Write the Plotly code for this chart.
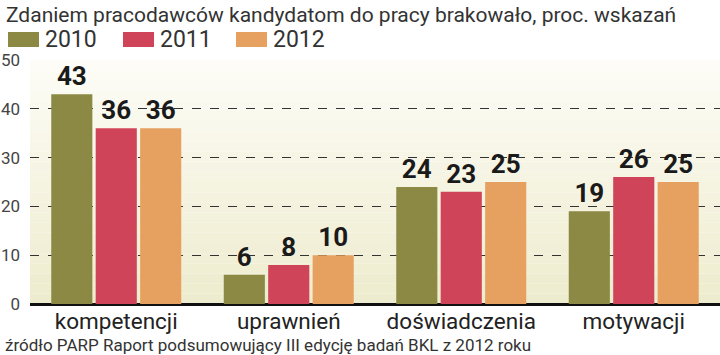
import plotly.graph_objects as go

categories = ["kompetencji", "uprawnień", "doświadczenia", "motywacji"]
years = ["2010", "2011", "2012"]
values_2010 = [43, 6, 24, 19]
values_2011 = [36, 8, 23, 26]
values_2012 = [36, 10, 25, 25]
y_ticks = [0, 10, 20, 30, 40, 50]

title_text = "Zdaniem pracodawców kandydatom do pracy brakowało, proc. wskazań"
source_text = "źródło PARP Raport podsumowujący III edycję badań BKL z 2012 roku"

colors = ["#8b8944", "#cf4458", "#e6a060"]
series = [values_2010, values_2011, values_2012]

FONT = "Roboto, Liberation Sans, sans-serif"

fig = go.Figure()
for name, vals, col in zip(years, series, colors):
    fig.add_trace(go.Bar(
        x=categories, y=vals, name=name,
        marker=dict(color=col, line=dict(width=0)),
        text=vals, texttemplate="%{text}", textposition="outside",
        textfont=dict(family=FONT, size=26, color="#1a1a1a", weight="bold"),
        cliponaxis=False, showlegend=False,
    ))

shapes = []
# background gradient bands (style only)
n = 24
top_c = (253, 252, 246)
bot_c = (238, 236, 206)
for i in range(n):
    t = i / (n - 1)
    c = tuple(int(round(bot_c[k] + (top_c[k] - bot_c[k]) * t)) for k in range(3))
    shapes.append(dict(type="rect", xref="paper", yref="paper",
                       x0=0, x1=1, y0=i / n, y1=(i + 1) / n,
                       fillcolor="rgb(%d,%d,%d)" % c, line=dict(width=0),
                       layer="below"))

annotations = []
W, H = 720, 355
ml, mr, mt, mb = 30, 0, 60, 51
pw, ph = W - ml - mr, H - mt - mb
legend_x = [8, 123, 236]
for i, (name, col) in enumerate(zip(years, colors)):
    x0 = legend_x[i]
    shapes.append(dict(type="rect", xref="paper", yref="paper",
                       x0=(x0 - ml) / pw, x1=(x0 + 31 - ml) / pw,
                       y0=(H - mb - 47) / ph, y1=(H - mb - 32) / ph,
                       fillcolor=col, line=dict(width=0)))
    annotations.append(dict(xref="paper", yref="paper",
                            x=(x0 + 35 - ml) / pw, y=(H - mb - 40) / ph,
                            xanchor="left", yanchor="middle", text=name,
                            showarrow=False,
                            font=dict(family=FONT, size=23, color="#333")))

annotations.append(dict(xref="paper", yref="paper",
                        x=(4 - ml) / pw, y=(H - mb - 15) / ph,
                        xanchor="left", yanchor="middle", text=title_text,
                        showarrow=False,
                        font=dict(family=FONT, size=21, color="#333")))
annotations.append(dict(xref="paper", yref="paper",
                        x=(3 - ml) / pw, y=(H - mb - 345) / ph,
                        xanchor="left", yanchor="middle", text=source_text,
                        showarrow=False,
                        font=dict(family=FONT, size=17, color="#333")))

fig.update_layout(
    width=W, height=H,
    margin=dict(l=ml, r=mr, t=mt, b=mb, pad=0),
    paper_bgcolor="white", plot_bgcolor="rgba(0,0,0,0)",
    barmode="group", bargap=0.227, bargroupgap=0.075,
    shapes=shapes, annotations=annotations,
    xaxis=dict(showgrid=False, showline=False, ticks="",
               tickfont=dict(family=FONT, size=22.5, color="#222"),
               ticklabelstandoff=1, automargin=False),
    yaxis=dict(range=[0, 50], tickvals=y_ticks, showgrid=True,
               gridcolor="#333", griddash="dash", gridwidth=1,
               zeroline=True, zerolinecolor="#111", zerolinewidth=3,
               showline=False, ticks="", automargin=False,
               tickfont=dict(family=FONT, size=17, color="#444"),
               ticklabelstandoff=9),
)

fig.write_html("out.html", config={"displayModeBar": False},
               post_script="document.body.style.margin='0';document.body.style.overflow='hidden';")
